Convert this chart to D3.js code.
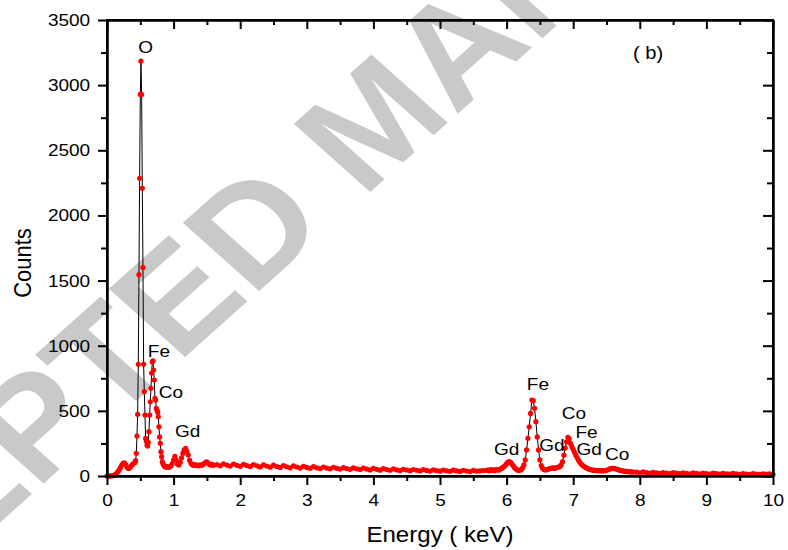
<!DOCTYPE html>
<html><head><meta charset="utf-8">
<script src="https://cdn.jsdelivr.net/npm/d3@7"></script>
<style>
body{margin:0;background:#fff}
svg{display:block}
text{font-family:"Liberation Sans",Arial,Helvetica,sans-serif}
</style>
</head><body>
<svg id="chart" width="788" height="550"></svg>
<script>
// ---- data: EDS spectrum, counts per energy channel (keV) ----
const seg1Start = 0.00, seg1Step = 0.02;
const seg1Counts = [0,0,0,1,2,4,10,18,30,45,62,82,97,100,88,70,58,62,75,88,98,104];
const seg2Start = 0.43, seg2Step = 0.01;
const seg2Counts = [118,174,307,473,857,1545,2285,2929,3185,2929,2208,1601,857,647,468,289,269,238,230,259,
  340,468,570,673,790,877,883,813,737,596,583,520,506,490,455,378,300,251,187,148,110,95,84,78,71,75,68,72];
const seg3Start = 0.92, seg3Step = 0.02;
const seg3Counts = [66,70,78,95,123,150,123,90,84,105,140,175,200,212,190,161,120,97,86,82,88,80,84,78,86,82,
  88,95,105,108,98,88,84,90,82];
const seg4Start = 1.65, seg4Step = 0.05;
const seg4Counts = [88,78,94,84,76,92,82,74,90,80,72,88,78,70,86,76,68,83,73,66,80,71,63,77,69,61,74,66,59,72,
  63,57,69,61,55,67,59,53,64,57,51,62,55,49,60,53,47,58,51,45,56,49,44,54,47,42,52,46,41,50,44,39,49,43,38,47,
  42,37,46,40,36,45,39,35,44,38,34,43,37,39,42,44];
const seg5Start = 5.72, seg5Step = 0.02;
const seg5Counts = [46,40,49,43,48,41,49,50,45,52,58,64,72,82,95,106,110,104,92,78,64,55,47,43,44,50,62,85,123,
  200,289,378,480,583,578,520,417,300,200,123,80,60,50,46,48,52,55,58,60,62,58,63,66,68,72,85,110,160,215,262,
  297,285,250,225,205,182,160,140,120,105,92,82,74,68,62,57,52,50,47,45,43,44,41,42,40,41,39,41,42,44,48,52,56,
  58,59,57,55,52,48,45,42,40,38,36,35,34,33,31,32,30];
const seg6Start = 7.95, seg6Step = 0.05;
const seg6Counts = [29,24,31,26,22,28,25,20,27,23,19,26,22,18,25,21,17,24,20,16,23,19,15,22,18,15,21,17,14,20,
  16,13,19,15,13,18,15,12,17,14,16,13];

// peak labels
const peakLabels = ["O","Fe","Co","Gd","Gd","Fe","Gd","Co","Fe","Gd","Co"];
const peakEnergy = [0.58,0.78,0.96,1.21,6.00,6.47,6.68,7.01,7.20,7.24,7.66];
const peakCounts = [3250,910,600,300,160,660,190,440,290,160,125];

const yMajorTicks = [0,500,1000,1500,2000,2500,3000,3500];
const xMajorTicks = [0,1,2,3,4,5,6,7,8,9,10];

// ---- build series ----
function buildSeg(start, step, counts){
  return counts.map((c,i)=>({e: Math.round((start + i*step)*1000)/1000, c}));
}
const spectrum = [].concat(
  buildSeg(seg1Start,seg1Step,seg1Counts),
  buildSeg(seg2Start,seg2Step,seg2Counts),
  buildSeg(seg3Start,seg3Step,seg3Counts),
  buildSeg(seg4Start,seg4Step,seg4Counts),
  buildSeg(seg5Start,seg5Step,seg5Counts),
  buildSeg(seg6Start,seg6Step,seg6Counts)
).filter(d=>d.e<=10);

const svg = d3.select("#chart");
const L=107, R=773, T=20, B=476;
const SX = 1.12; // horizontal glyph stretch seen in the reference
const x = d3.scaleLinear().domain([0,10]).range([L,R]);
const y = d3.scaleLinear().domain([0,3500]).range([B,T]);

// watermark
svg.append("g").attr("transform",`translate(372,119) scale(${SX},1) rotate(-45)`)
  .append("text")
  .attr("text-anchor","middle").attr("dy","0.36em")
  .attr("font-size",140).attr("font-weight","bold")
  .attr("fill","#c8c9ca")
  .text("ACCEPTED MANUSCRIPT");

// line + dots
svg.append("path").datum(spectrum)
  .attr("fill","none").attr("stroke","#000").attr("stroke-width",1)
  .attr("d", d3.line().x(d=>x(d.e)).y(d=>y(d.c)));
svg.append("g").selectAll("circle").data(spectrum).join("circle")
  .attr("cx",d=>x(d.e)).attr("cy",d=>y(d.c)).attr("r",2.6).attr("fill","#ff0000");

// axes
const minorX = d3.range(0.5,10,1);
const minorY = d3.range(250,3500,500);
function styleAxis(g){
  g.select(".domain").attr("stroke","#000").attr("stroke-width",2);
  g.selectAll(".tick line").attr("stroke","#000").attr("stroke-width",2);
  g.selectAll(".tick text").attr("font-size",17).attr("fill","#000")
    .attr("transform",`scale(${SX},1)`)
    .style("font-family",'"Liberation Sans",Arial,sans-serif');
}
// bottom
svg.append("g").attr("transform",`translate(0,${B})`)
  .call(d3.axisBottom(x).tickValues(xMajorTicks).tickFormat(d3.format("d")).tickSize(9).tickPadding(9).tickSizeOuter(0))
  .call(styleAxis);
svg.append("g").attr("transform",`translate(0,${B})`)
  .call(d3.axisBottom(x).tickValues(minorX).tickFormat("").tickSize(5).tickSizeOuter(0))
  .call(styleAxis);
// top (inward)
svg.append("g").attr("transform",`translate(0,${T})`)
  .call(d3.axisBottom(x).tickValues(xMajorTicks).tickFormat("").tickSize(9).tickSizeOuter(0))
  .call(styleAxis);
svg.append("g").attr("transform",`translate(0,${T})`)
  .call(d3.axisBottom(x).tickValues(minorX).tickFormat("").tickSize(5).tickSizeOuter(0))
  .call(styleAxis);
// left
svg.append("g").attr("transform",`translate(${L},0)`)
  .call(d3.axisLeft(y).tickValues(yMajorTicks).tickFormat(d3.format("d")).tickSize(9).tickPadding(6).tickSizeOuter(0))
  .call(styleAxis);
svg.append("g").attr("transform",`translate(${L},0)`)
  .call(d3.axisLeft(y).tickValues(minorY).tickFormat("").tickSize(6).tickSizeOuter(0))
  .call(styleAxis);
// right (inward)
svg.append("g").attr("transform",`translate(${R},0)`)
  .call(d3.axisLeft(y).tickValues(yMajorTicks).tickFormat("").tickSize(10).tickSizeOuter(0))
  .call(styleAxis);
svg.append("g").attr("transform",`translate(${R},0)`)
  .call(d3.axisLeft(y).tickValues(minorY).tickFormat("").tickSize(6).tickSizeOuter(0))
  .call(styleAxis);
svg.append("rect").attr("x",L).attr("y",T).attr("width",R-L).attr("height",B-T)
  .attr("fill","none").attr("stroke","#000").attr("stroke-width",2);

// stretched text helper
function label(px, py, str, size, anchor){
  svg.append("g").attr("transform",`translate(${px},${py}) scale(${SX},1)`)
    .append("text").attr("text-anchor",anchor||"middle").attr("font-size",size).attr("fill","#000").text(str);
}
// axis titles
label(440, 542, "Energy ( keV)", 21.5, "middle");
svg.append("g").attr("transform","translate(31,263) scale(1.1,1) rotate(-90)")
  .append("text").attr("text-anchor","middle").attr("font-size",22).text("Counts");

// panel tag
label(633, 59, "( b)", 18, "start");

// peak labels
peakLabels.forEach((s,i)=>label(x(peakEnergy[i]), y(peakCounts[i]), s, 17, "middle"));
</script>
</body></html>
